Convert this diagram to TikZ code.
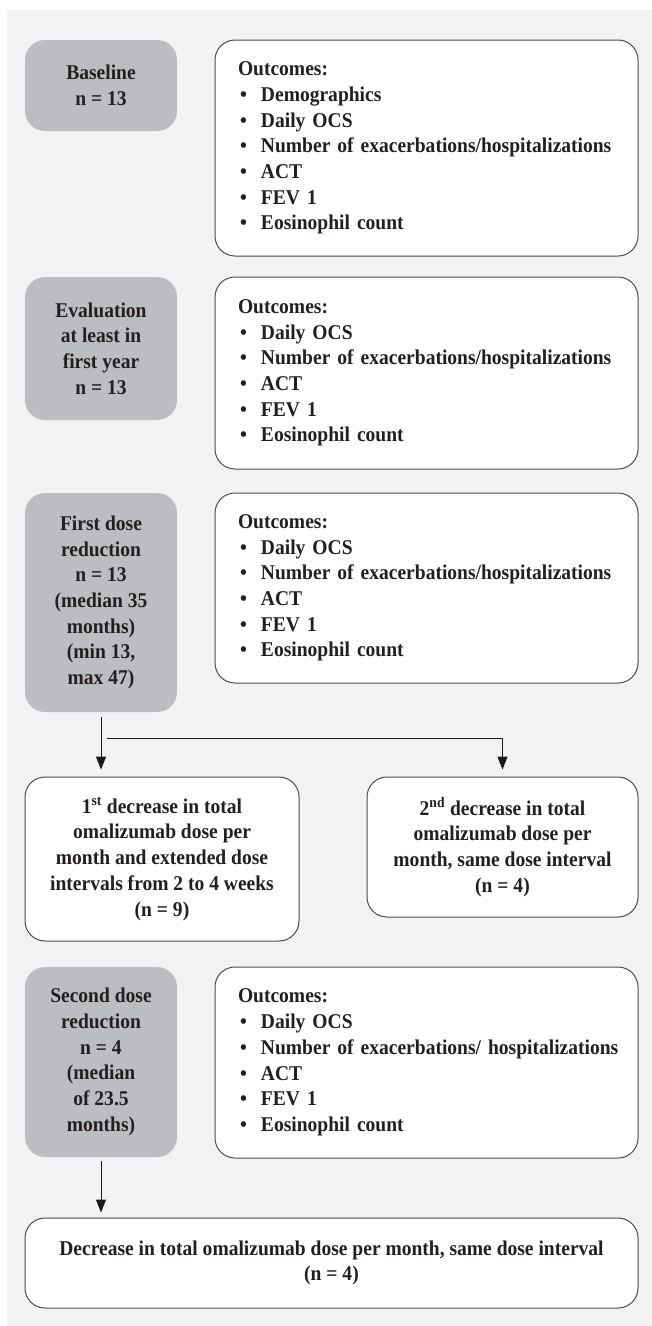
\documentclass[tikz,border=0pt]{standalone}
\usepackage{fontspec}
\setmainfont{Liberation Serif}[FakeStretch=0.93]
\usetikzlibrary{arrows.meta}
\definecolor{bgc}{HTML}{F1F2F4}
\definecolor{gboxc}{HTML}{BCBDC0}
\definecolor{bordc}{HTML}{4D4D4F}
\definecolor{txtc}{HTML}{231F20}
\newcommand\itm[1]{\mbox{\makebox[23pt][l]{\hspace{2pt}•}#1}}
\tikzset{
  every node/.style={font=\fontsize{21}{25.7}\selectfont\bfseries, text=txtc},
  graybox/.style={fill=gboxc, draw=none, rounded corners=20pt, minimum width=152pt, align=center, inner sep=0pt},
  outbox/.style={draw=bordc, line width=1pt, fill=white, rounded corners=20pt, text width=377pt, inner xsep=23pt, inner ysep=0pt, align=left},
  decbox/.style={draw=bordc, line width=1pt, fill=white, rounded corners=20pt, align=center, inner sep=0pt},
  arr/.style={draw=black!90, line width=1pt, -{Triangle[length=13pt,width=10pt]}}
}
\begin{document}
\begin{tikzpicture}[x=1pt,y=-1pt]
\useasboundingbox (0,0) rectangle (652,1326);
\fill[bgc] (7,10) rectangle (652,1326);

\node[graybox, minimum height=91pt] (g1) at (101,85.5) {Baseline\\n = 13};
\node[outbox, minimum height=216pt] (o1) at (426.5,148) {Outcomes:\\\itm{Demographics}\\\itm{Daily OCS}\\\itm{Number of exacerbations/hospitalizations}\\\itm{ACT}\\\itm{FEV 1}\\\itm{Eosinophil count}};

\node[graybox, minimum height=143pt] (g2) at (101,348.5) {Evaluation\\at least in\\first year\\n = 13};
\node[outbox, minimum height=192pt] (o2) at (426.5,373) {Outcomes:\\\itm{Daily OCS}\\\itm{Number of exacerbations/hospitalizations}\\\itm{ACT}\\\itm{FEV 1}\\\itm{Eosinophil count}};

\node[graybox, minimum height=219pt] (g3) at (101,602.5) {First dose\\reduction\\n = 13\\(median 35\\months)\\(min 13,\\max 47)};
\node[outbox, minimum height=190pt] (o3) at (426.5,588) {Outcomes:\\\itm{Daily OCS}\\\itm{Number of exacerbations/hospitalizations}\\\itm{ACT}\\\itm{FEV 1}\\\itm{Eosinophil count}};

\node[decbox, minimum width=274pt, minimum height=164pt] (d1) at (162,859) {1\textsuperscript{st} decrease in total\\omalizumab dose per\\month and extended dose\\intervals from 2 to 4 weeks\\(n = 9)};
\node[decbox, minimum width=271pt, minimum height=140pt] (d2) at (502.5,847) {2\textsuperscript{nd} decrease in total\\omalizumab dose per\\month, same dose interval\\(n = 4)};

\node[graybox, minimum height=190pt] (g5) at (101,1062) {Second dose\\reduction\\n = 4\\(median\\of 23.5\\months)};
\node[outbox, minimum height=191pt] (o5) at (426.5,1062.5) {Outcomes:\\\itm{Daily OCS}\\\itm{Number of exacerbations/ hospitalizations}\\\itm{ACT}\\\itm{FEV 1}\\\itm{Eosinophil count}};

\node[decbox, minimum width=613pt, minimum height=90pt] (d3) at (331.5,1263) {Decrease in total omalizumab dose per month, same dose interval\\(n = 4)};

\coordinate (h) at (107,738);
\draw[arr] ([yshift=-5pt]g3.south) -- ([yshift=7pt]d1.north -| g3.south);
\draw[arr] (h) -| ([yshift=7pt]d2.north);
\draw[arr] ([yshift=-4pt]g5.south) -- ([yshift=5pt]d3.north -| g5.south);
\end{tikzpicture}
\end{document}
